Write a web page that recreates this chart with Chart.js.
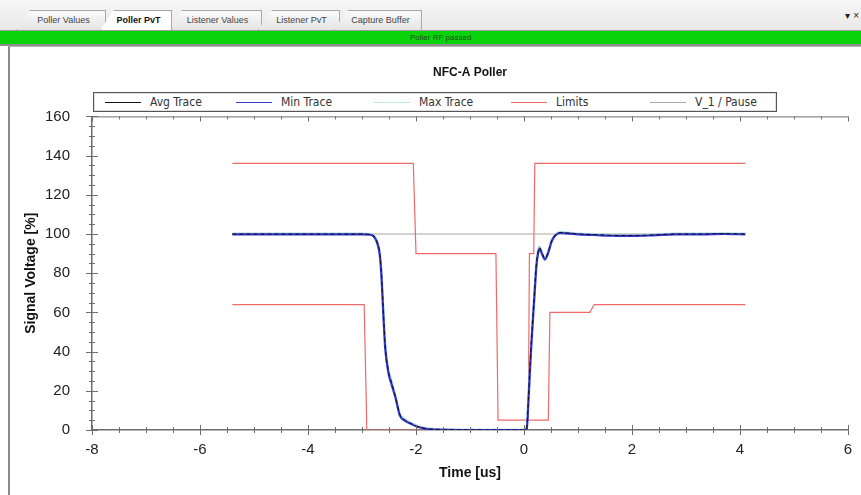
<!DOCTYPE html>
<html>
<head>
<meta charset="utf-8">
<script src="https://cdn.jsdelivr.net/npm/chart.js@4.4.1/dist/chart.umd.min.js"></script>
<style>
  html, body { margin: 0; padding: 0; width: 861px; height: 495px; overflow: hidden; background: #fff; font-family: "Liberation Sans", Arial, sans-serif; }
  #tabstrip { position: absolute; left: 0; top: 0; width: 861px; height: 30px; background: linear-gradient(#f6f6f6, #e9e9e9); border-bottom: 1px solid #b8b8b8; }
  .tab { position: absolute; top: 10px; height: 19px; font-size: 9px; color: #444; line-height: 19px; text-align: center;
         background: linear-gradient(#fafafa, #e4e4e4); border: 1px solid #a8a8a8; border-bottom: none;
         clip-path: polygon(14px 0, 100% 0, 100% 100%, 0 100%); }
  .tab.active { background: #fff; font-weight: bold; color: #111; z-index: 2; }
  #menu { position: absolute; right: 2px; top: 10px; font-size: 10px; color: #222; }
  #status { position: absolute; left: 0; top: 30px; width: 861px; height: 13px; background: #0bd30b; border-top: 1px solid #9c9c9c; border-bottom: 2px solid #8e8e8e;
            font-size: 8px; line-height: 13px; text-align: center; color: #1b4d1b; box-sizing: content-box; }
  #status span { position: absolute; left: 410px; }
  #panel { position: absolute; left: 8px; top: 46px; width: 853px; height: 449px; border-left: 2px solid #8a8a8a; border-top: 1px solid #b5b5b5; }
  #legend { position: absolute; left: 93px; top: 92px; width: 682px; height: 18px; border: 1px solid #555; box-shadow: inset 0 0 0 1px #ddd; background: #fff;
            font-family: "Liberation Sans Narrow", "DejaVu Sans Condensed", "Liberation Sans", Arial, sans-serif; font-stretch: condensed; font-size: 12px; color: #333; }
  .item { position: absolute; top: 0; height: 18px; line-height: 18px; white-space: nowrap; }
  .swatch { display: inline-block; width: 36px; height: 1px; vertical-align: middle; margin-right: 9px; }
  #chart { position: absolute; left: 9px; top: 47px; }
</style>
</head>
<body>
<div id="tabstrip">
  <div class="tab" style="left:16px;width:88px;">&nbsp;&nbsp;Poller Values</div>
  <div class="tab active" style="left:100px;width:70px;">&nbsp;&nbsp;Poller PvT</div>
  <div class="tab" style="left:168px;width:92px;">&nbsp;&nbsp;Listener Values</div>
  <div class="tab" style="left:258px;width:80px;">&nbsp;&nbsp;Listener PvT</div>
  <div class="tab" style="left:334px;width:86px;">&nbsp;&nbsp;Capture Buffer</div>
  <div id="menu">&#9662; &#215;</div>
</div>
<div id="status"><span>Poller RF passed</span></div>
<div id="panel"></div>
<div id="legend"></div>
<canvas id="chart" width="852" height="448"></canvas>
<script>
// trace samples (time in us, level in %)
const traceTime = [-5.4, -4.5, -3.5, -3.0, -2.85, -2.78, -2.72, -2.67, -2.64, -2.6, -2.57, -2.51, -2.45, -2.38, -2.3, -2.2, -2.1, -1.96, -1.8, -1.6, -1.2, -0.6,
                   0.0, 0.05, 0.08, 0.11, 0.14, 0.17, 0.2, 0.23, 0.26, 0.29, 0.33, 0.39, 0.45, 0.51, 0.58, 0.67, 0.8, 1.0, 1.3, 1.6, 2.0, 2.4, 2.8, 3.3, 3.7, 4.1];
const avgTrace = [100, 100, 100, 100, 99.8, 99, 96, 90, 80, 58, 43, 30, 24, 17, 8, 5, 3.5, 1.7, 0.7, 0.3, 0.1, 0,
                  0, 1, 15, 32, 47, 60, 73, 85, 91, 93, 90.5, 87.5, 91, 96.5, 99.5, 100.8, 100.5, 100, 99.7, 99.3, 99.2, 99.5, 100, 100, 100.2, 100];
const minTrace = [99.8, 99.8, 99.8, 99.8, 99.6, 98.6, 95.5, 89, 78.5, 56, 41.5, 29, 23, 16.5, 7.5, 4.6, 3.2, 1.5, 0.5, 0.2, 0, 0,
                  0, 0.5, 13, 30, 45, 58, 71, 83.5, 90, 92.5, 90, 87, 90.5, 96, 99.2, 100.5, 100.3, 99.8, 99.5, 99.1, 99, 99.3, 99.8, 99.8, 100, 99.8];
const maxTrace = [100.2, 100.2, 100.2, 100.2, 100, 99.4, 96.6, 91, 81.5, 60, 45, 31, 25, 17.5, 8.5, 5.4, 3.8, 1.9, 0.9, 0.4, 0.2, 0.1,
                  0.2, 2, 17, 34, 49, 62, 75, 86, 91.8, 93.6, 91, 88, 91.5, 97, 99.8, 101, 100.8, 100.2, 99.9, 99.5, 99.4, 99.7, 100.2, 100.2, 100.4, 100.2];

// limit masks
const upperLimitTime = [-5.4, -2.05, -2.0, -0.52, -0.48, 0.08, 0.1, 0.18, 0.2, 4.1];
const upperLimit = [136, 136, 90, 90, 5, 5, 90, 90, 136, 136];
const lowerLimitTime = [-5.4, -2.96, -2.91, 0.05, 0.05, 0.45, 0.48, 1.22, 1.3, 4.1];
const lowerLimit = [64, 64, 0, 0, 5, 5, 60, 60, 64, 64];

// V_1 / pause reference
const pauseTime = [-5.4, 4.1];
const pauseLevel = [100, 100];

const legendItems = [
  { label: 'Avg Trace', color: '#111111', left: 11 },
  { label: 'Min Trace', color: '#3a3ad0', left: 142 },
  { label: 'Max Trace', color: '#bfe4e4', left: 280 },
  { label: 'Limits', color: '#ee6a6a', left: 417 },
  { label: 'V_1 / Pause', color: '#a8a8a8', left: 556 }
];

const toPoints = (xs, ys) => xs.map((x, i) => ({ x, y: ys[i] }));

const legendEl = document.getElementById('legend');
legendItems.forEach(item => {
  const div = document.createElement('div');
  div.className = 'item';
  div.style.left = item.left + 'px';
  div.innerHTML = '<span class="swatch" style="background:' + item.color + '"></span>' + item.label;
  legendEl.appendChild(div);
});

// axis ticks in this plot cross the axis line, and the top edge carries ticks too
const crossTicks = {
  id: 'crossTicks',
  afterDraw(chart) {
    const { ctx, chartArea, scales } = chart;
    const x = scales.x;
    const y = scales.y;
    ctx.save();
    ctx.strokeStyle = '#6e6e6e';
    ctx.lineWidth = 1;
    ctx.beginPath();
    ctx.moveTo(chartArea.left, chartArea.top + 0.5);
    ctx.lineTo(chartArea.right, chartArea.top + 0.5);
    x.ticks.forEach(t => {
      const px = Math.round(x.getPixelForValue(t.value)) + 0.5;
      const len = t.value % 2 === 0 ? 5 : 3;
      ctx.moveTo(px, chartArea.bottom - len);
      ctx.lineTo(px, chartArea.bottom + len);
      ctx.moveTo(px, chartArea.top);
      ctx.lineTo(px, chartArea.top + len);
    });
    y.ticks.forEach(t => {
      const py = Math.round(y.getPixelForValue(t.value)) + 0.5;
      const len = t.value % 20 === 0 ? 6 : 3;
      ctx.moveTo(chartArea.left - len, py);
      ctx.lineTo(chartArea.left + len, py);
    });
    ctx.stroke();
    ctx.restore();
  }
};

const lineStyle = { pointRadius: 0, fill: false, cubicInterpolationMode: 'monotone' };
const limitColor = '#ee6a6a';

new Chart(document.getElementById('chart'), {
  type: 'line',
  data: {
    datasets: [
      { label: 'Avg Trace', data: toPoints(traceTime, avgTrace), borderColor: '#111111', borderWidth: 1, borderDash: [4, 3], ...lineStyle },
      { label: 'Min Trace', data: toPoints(traceTime, minTrace), borderColor: '#3535c8', borderWidth: 2.2, ...lineStyle },
      { label: 'Max Trace', data: toPoints(traceTime, maxTrace), borderColor: '#a9d8e6', borderWidth: 2, ...lineStyle },
      { label: 'Limits', data: toPoints(upperLimitTime, upperLimit), borderColor: limitColor, borderWidth: 1.2, pointRadius: 0, tension: 0 },
      { label: 'Limits low', data: toPoints(lowerLimitTime, lowerLimit), borderColor: limitColor, borderWidth: 1.2, pointRadius: 0, tension: 0 },
      { label: 'V_1 / Pause', data: toPoints(pauseTime, pauseLevel), borderColor: '#a8a8a8', borderWidth: 1, pointRadius: 0 }
    ]
  },
  options: {
    responsive: false,
    animation: false,
    layout: { padding: { top: 0, right: 13, bottom: 0, left: 0 } },
    plugins: {
      legend: { display: false },
      tooltip: { enabled: false },
      title: {
        display: true,
        fullSize: false,
        text: 'NFC-A Poller',
        color: '#111',
        font: { family: 'Liberation Sans', size: 12, weight: 'bold' },
        padding: { top: 18, bottom: 37 }
      }
    },
    scales: {
      x: {
        type: 'linear',
        min: -8,
        max: 6,
        afterFit: s => { s.height = 65; },
        grid: { display: false },
        border: { display: true, color: '#6e6e6e', width: 1.5 },
        ticks: {
          stepSize: 0.5,
          autoSkip: false,
          maxRotation: 0,
          padding: 3,
          color: '#222',
          font: { family: 'Liberation Sans', size: 15 },
          callback: v => (v % 2 === 0 ? String(v) : '')
        },
        title: {
          display: true,
          text: 'Time [us]',
          color: '#111',
          font: { family: 'Liberation Sans', size: 14, weight: 'bold' },
          padding: { top: 0, bottom: 13 }
        }
      },
      y: {
        min: 0,
        max: 160,
        afterFit: s => { s.width = 83; },
        grid: { display: false },
        border: { display: true, color: '#6e6e6e', width: 1.5 },
        ticks: {
          stepSize: 5,
          autoSkip: false,
          padding: 14,
          color: '#222',
          font: { family: 'Liberation Sans', size: 15 },
          callback: v => (v % 20 === 0 ? String(v) : '')
        },
        title: {
          display: true,
          text: 'Signal Voltage [%]',
          color: '#111',
          font: { family: 'Liberation Sans', size: 14, weight: 'bold' },
          padding: { top: 14, bottom: 0 }
        }
      }
    }
  },
  plugins: [crossTicks]
});
</script>
</body>
</html>
